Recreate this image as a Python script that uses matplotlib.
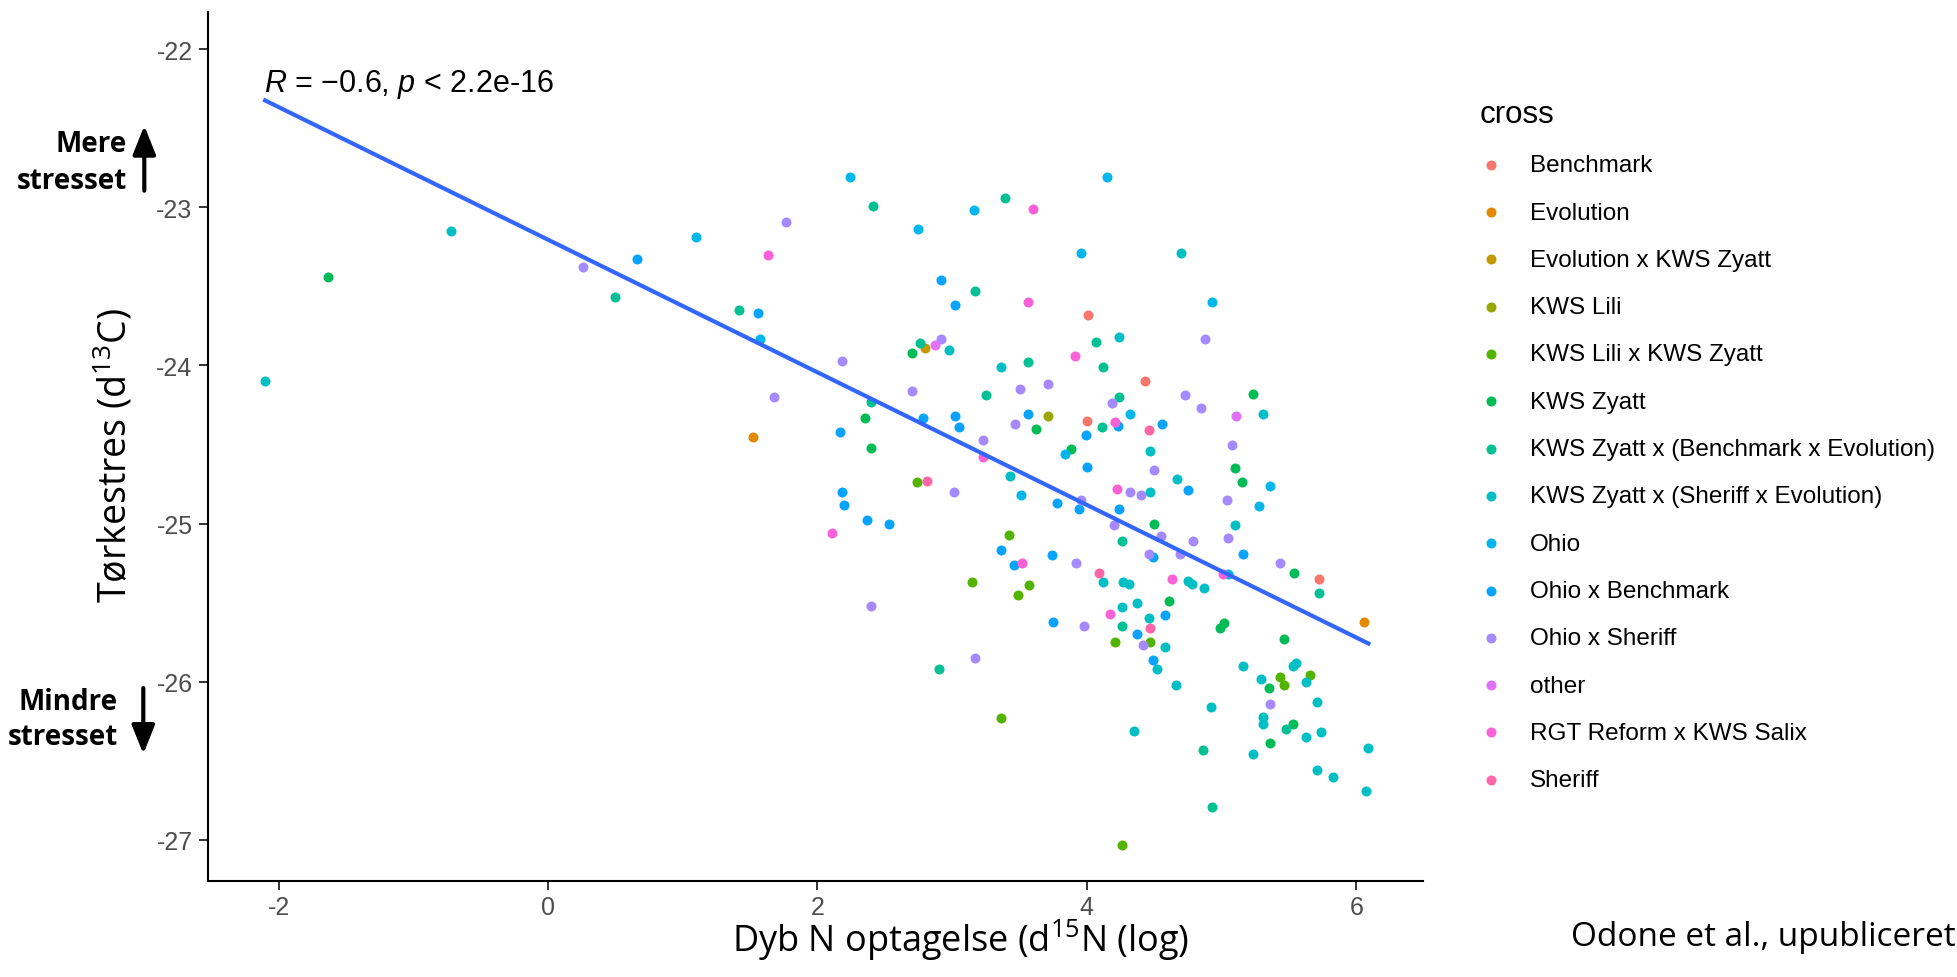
import numpy as np
import matplotlib
matplotlib.use("Agg")
import matplotlib.pyplot as plt

plt.rcParams['font.family'] = ['Liberation Sans', 'DejaVu Sans']
plt.rcParams['axes.unicode_minus'] = False
plt.rcParams['mathtext.fontset'] = 'custom'
plt.rcParams['mathtext.rm'] = 'Open Sans'
plt.rcParams['mathtext.it'] = 'Liberation Sans:italic'

# d15N (x) and d13C (y) per cross
benchmark_x = [4.01, 4.00, 4.43, 5.72]
benchmark_y = [-23.68, -24.35, -24.10, -25.35]
evolution_x = [1.52, 6.06]
evolution_y = [-24.45, -25.62]
evo_zyatt_x = [2.80]
evo_zyatt_y = [-23.89]
lili_x = [3.71]
lili_y = [-24.32]
lili_zyatt_x = [2.74, 3.42, 3.15, 3.57, 3.49, 4.21, 3.36, 4.26, 4.47, 5.43, 5.46, 5.66]
lili_zyatt_y = [-24.74, -25.07, -25.37, -25.39, -25.45, -25.75, -26.23, -27.03, -25.75, -25.97, -26.02, -25.96]
zyatt_x = [-1.63, 2.35, 2.40, 2.70, 3.62, 3.88, 5.23, 5.10, 5.15, 4.50, 5.54, 4.61,
           4.99, 5.02, 5.46, 5.35, 5.53, 5.36]
zyatt_y = [-23.44, -24.33, -24.52, -23.92, -24.40, -24.53, -24.18, -24.65, -24.74, -25.00, -25.31, -25.49,
           -25.66, -25.63, -25.73, -26.04, -26.27, -26.39]
zyatt_be_x = [0.50, 2.41, 3.39, 3.17, 1.42, 2.40, 2.76, 3.56, 3.25, 4.07, 4.12, 4.24,
              4.11, 4.26, 2.90, 5.72, 4.26, 5.48, 4.86, 4.93]
zyatt_be_y = [-23.57, -22.99, -22.94, -23.53, -23.65, -24.23, -23.86, -23.98, -24.19, -23.85, -24.01, -24.20,
              -24.39, -25.11, -25.92, -25.44, -25.65, -26.30, -26.43, -26.79]
zyatt_se_x = [-2.10, -0.72, 2.98, 3.36, 4.24, 4.70, 5.31, 4.47, 3.43, 4.12, 4.67, 4.47,
              5.10, 4.27, 4.31, 4.75, 4.78, 4.87, 4.26, 4.37, 4.46, 4.58, 4.52, 4.66,
              5.16, 5.29, 5.53, 5.55, 5.63, 5.71, 5.31, 5.31, 5.63, 5.74, 6.09, 6.07,
              5.71, 5.83, 5.23, 4.35, 4.92]
zyatt_se_y = [-24.10, -23.15, -23.90, -24.01, -23.82, -23.29, -24.31, -24.54, -24.70, -25.37, -24.72, -24.80,
              -25.01, -25.37, -25.38, -25.36, -25.38, -25.41, -25.53, -25.50, -25.60, -25.78, -25.92, -26.02,
              -25.90, -25.98, -25.90, -25.88, -26.00, -26.13, -26.22, -26.27, -26.35, -26.32, -26.42, -26.69,
              -26.56, -26.60, -26.46, -26.31, -26.16]
ohio_x = [1.10, 2.24, 2.75, 3.16, 4.15, 3.96, 1.57, 4.93, 4.32, 3.84, 3.51, 5.36, 5.28, 5.05]
ohio_y = [-23.19, -22.81, -23.14, -23.02, -22.81, -23.29, -23.83, -23.60, -24.31, -24.56, -24.82, -24.76,
          -24.89, -25.32]
ohio_bm_x = [0.66, 2.92, 3.02, 1.56, 2.17, 4.23, 3.56, 3.99, 2.78, 3.02, 3.05, 4.56,
             4.00, 3.78, 3.94, 4.24, 2.18, 2.20, 2.37, 2.53, 3.36, 3.46, 3.74, 3.75,
             4.75, 4.49, 5.16, 4.58, 4.37, 4.49]
ohio_bm_y = [-23.33, -23.46, -23.62, -23.67, -24.42, -24.38, -24.31, -24.44, -24.33, -24.32, -24.39, -24.37,
             -24.64, -24.87, -24.91, -24.91, -24.80, -24.88, -24.98, -25.00, -25.17, -25.26, -25.20, -25.62,
             -24.79, -25.21, -25.19, -25.58, -25.70, -25.86]
ohio_sh_x = [0.26, 1.77, 2.18, 1.68, 2.92, 2.70, 3.50, 3.71, 4.19, 3.47, 3.23, 4.88,
             4.73, 4.85, 5.08, 3.96, 4.20, 3.01, 3.92, 2.40, 3.98, 3.17, 4.50, 4.32,
             4.40, 5.04, 4.55, 4.79, 5.05, 4.46, 4.69, 5.43, 4.42, 5.36]
ohio_sh_y = [-23.38, -23.09, -23.97, -24.20, -23.83, -24.16, -24.15, -24.12, -24.24, -24.37, -24.47, -23.83,
             -24.19, -24.27, -24.50, -24.85, -25.01, -24.80, -25.25, -25.52, -25.65, -25.85, -24.66, -24.80,
             -24.82, -24.85, -25.08, -25.11, -25.09, -25.19, -25.19, -25.25, -25.77, -26.14]
other_x = [2.87, 5.11]
other_y = [-23.87, -24.32]
rgt_x = [1.63, 3.60, 3.56, 3.91, 4.21, 3.23, 4.22, 2.11, 3.52, 4.17, 4.63, 5.01]
rgt_y = [-23.30, -23.01, -23.60, -23.94, -24.36, -24.58, -24.78, -25.06, -25.25, -25.57, -25.35, -25.32]
sheriff_x = [4.46, 2.81, 4.09, 4.47]
sheriff_y = [-24.41, -24.73, -25.31, -25.66]

crosses = ["Benchmark", "Evolution", "Evolution x KWS Zyatt", "KWS Lili", "KWS Lili x KWS Zyatt",
           "KWS Zyatt", "KWS Zyatt x (Benchmark x Evolution)", "KWS Zyatt x (Sheriff x Evolution)",
           "Ohio", "Ohio x Benchmark", "Ohio x Sheriff", "other", "RGT Reform x KWS Salix", "Sheriff"]
colors = ["#F8766D", "#E38900", "#C49A00", "#99A800", "#53B400", "#00BC56", "#00C094",
          "#00BFC4", "#00B6EB", "#06A4FF", "#A58AFF", "#DF70F8", "#FB61D7", "#FF66A8"]
xs = [benchmark_x, evolution_x, evo_zyatt_x, lili_x, lili_zyatt_x, zyatt_x, zyatt_be_x,
      zyatt_se_x, ohio_x, ohio_bm_x, ohio_sh_x, other_x, rgt_x, sheriff_x]
ys = [benchmark_y, evolution_y, evo_zyatt_y, lili_y, lili_zyatt_y, zyatt_y, zyatt_be_y,
      zyatt_se_y, ohio_y, ohio_bm_y, ohio_sh_y, other_y, rgt_y, sheriff_y]

W, H = 1958, 978
fig = plt.figure(figsize=(W / 100, H / 100), dpi=100)
ax = fig.add_axes([208.3 / W, 1 - 881.7 / H, (1422.7 - 208.3) / W, (881.7 - 13.3) / H])

handles = []
for name, col, x, y in zip(crosses, colors, xs, ys):
    h = ax.scatter(x, y, s=52, color=col, linewidths=0, label=name, zorder=2)
    handles.append(h)

# linear fit over all points
all_x = np.concatenate([np.array(v) for v in xs])
all_y = np.concatenate([np.array(v) for v in ys])
slope, icpt = np.polyfit(all_x, all_y, 1)
fx = np.array([all_x.min(), all_x.max()])
ax.plot(fx, slope * fx + icpt, color="#3366FF", lw=3, zorder=3)

ax.text(-2.11, -22.215, r"$\mathit{R}$ = −0.6, $\mathit{p}$ < 2.2e-16", fontsize=22,
        ha="left", va="center", color="black")

ax.set_xlim(-2.522, 6.493)
ax.set_ylim(-27.258, -21.767)
ax.set_xticks([-2, 0, 2, 4, 6])
ax.set_yticks([-27, -26, -25, -24, -23, -22])
for s in ["top", "right"]:
    ax.spines[s].set_visible(False)
for s in ["left", "bottom"]:
    ax.spines[s].set_linewidth(1.5)
    ax.spines[s].set_color("black")
ax.tick_params(axis="both", length=6.5, width=1.4, color="#333333", labelsize=18, labelcolor="#4D4D4D")
ax.tick_params(axis="x", pad=4)
ax.tick_params(axis="y", pad=4.8)

leg = ax.legend(handles=handles, loc="upper left", bbox_to_anchor=(1479.3 / W, 1 - 100 / H),
                bbox_transform=fig.transFigure, frameon=False, fontsize=17.5, title="cross",
                title_fontsize=22.5, labelspacing=1.04, handletextpad=1.1, handlelength=1.0,
                borderpad=0, borderaxespad=0, alignment="left", scatterpoints=1)

# overlaid slide text
fig.text(1189 / W, 1 - 940 / H, r"Dyb N optagelse (d$^{\mathrm{15}}$N (log)", fontsize=26,
         family="Open Sans", ha="right", va="center")
fig.text(114 / W, 1 - 308 / H, r"Tørkestres (d$^{\mathrm{13}}$C)", fontsize=27,
         family="Open Sans", rotation=90, ha="center", va="top")
fig.text(1571 / W, 1 - 938 / H, "Odone et al., upubliceret", fontsize=24,
         family="Open Sans", ha="left", va="center")

bold = dict(fontsize=20, family="Open Sans", weight="bold", ha="right", va="center")
fig.text(127 / W, 1 - 145 / H, "Mere", **bold)
fig.text(127 / W, 1 - 181.7 / H, "stresset", **bold)
fig.text(118 / W, 1 - 702.7 / H, "Mindre", **bold)
fig.text(118 / W, 1 - 738 / H, "stresset", **bold)

arrow = dict(arrowstyle="-|>,head_length=0.7,head_width=0.28", lw=3, color="black",
             mutation_scale=25, shrinkA=0, shrinkB=0)
fig.add_artist(matplotlib.patches.FancyArrowPatch((144.3 / W, 1 - 191.7 / H), (144.3 / W, 1 - 126.7 / H),
                                                  transform=fig.transFigure, **arrow))
fig.add_artist(matplotlib.patches.FancyArrowPatch((143.3 / W, 1 - 689 / H), (143.3 / W, 1 - 755 / H),
                                                  transform=fig.transFigure, **arrow))

fig.savefig("out.png", dpi=100, facecolor="white")
